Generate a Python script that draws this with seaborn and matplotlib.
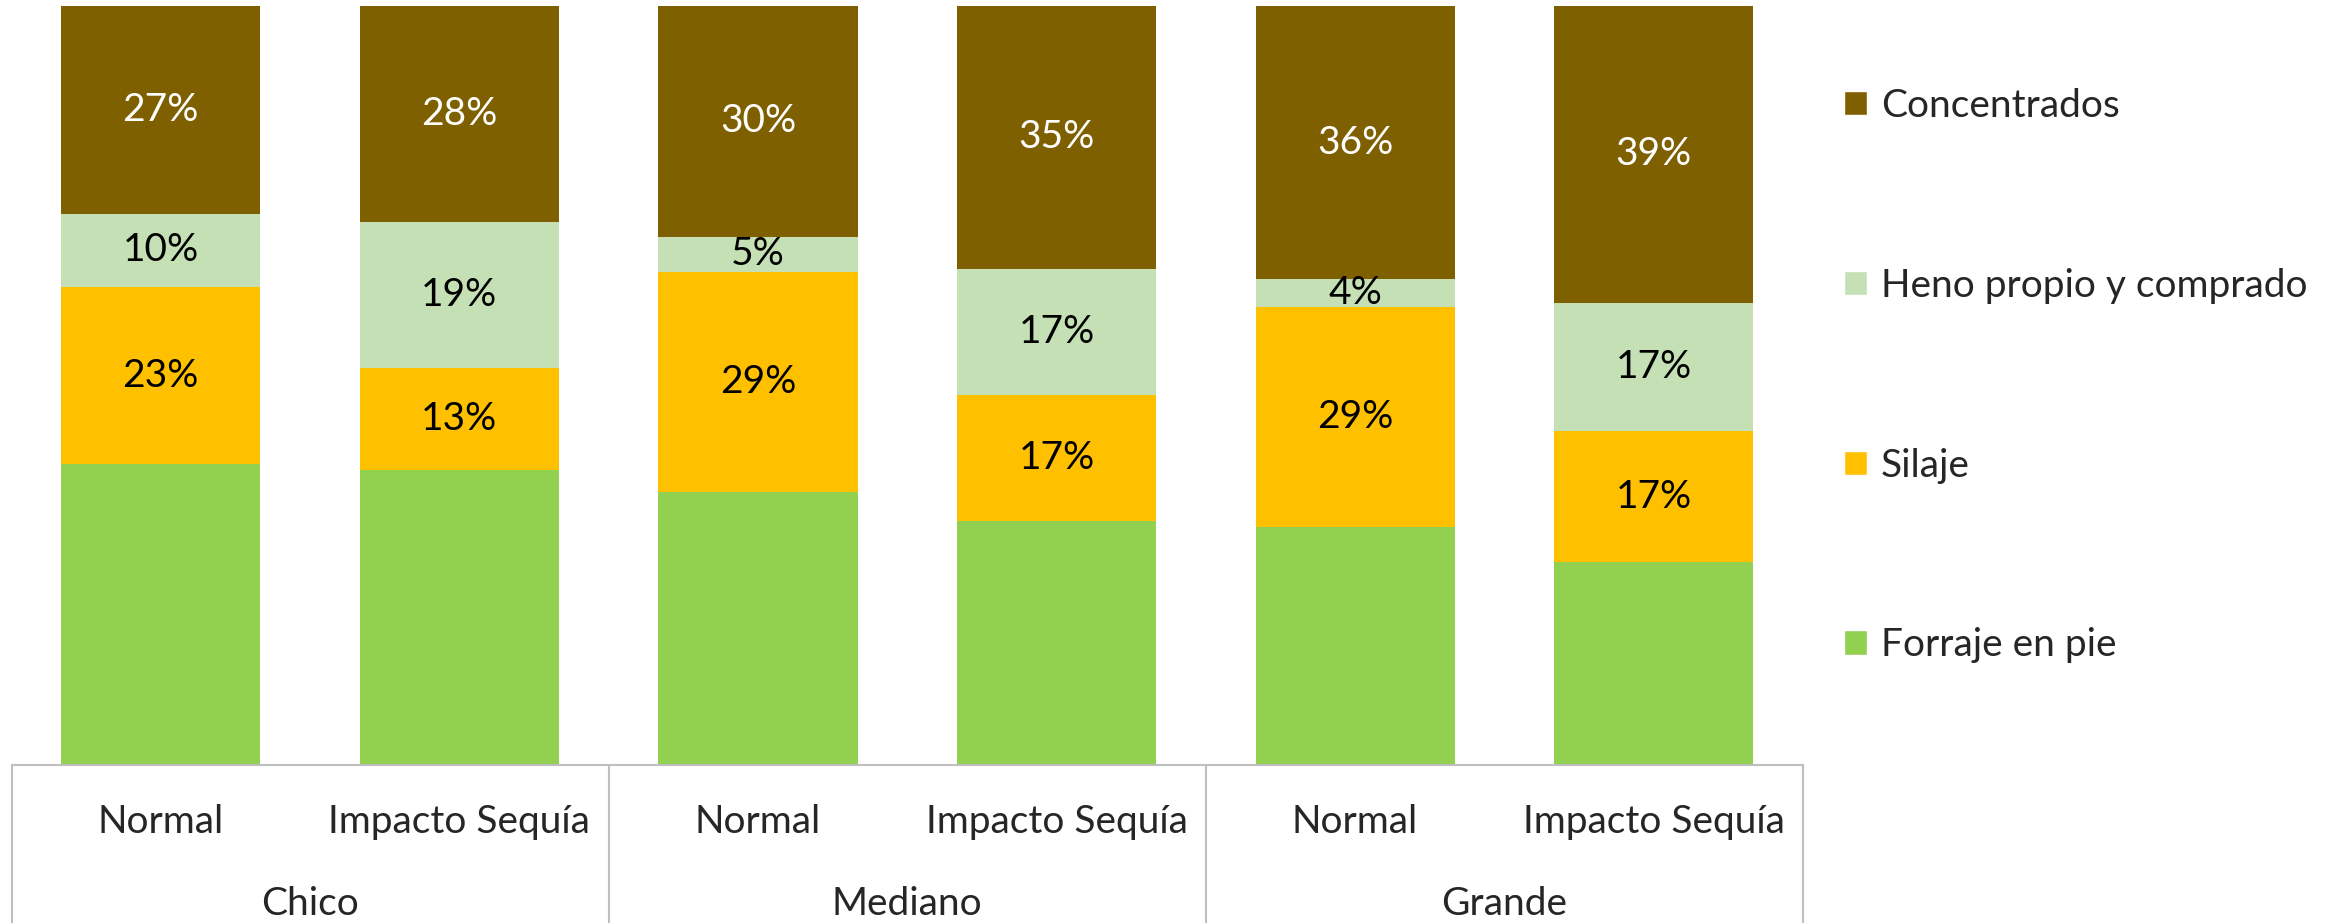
import matplotlib
matplotlib.use("Agg")
import matplotlib.pyplot as plt
import matplotlib.transforms as mtransforms
from matplotlib.patches import Patch
import pandas as pd
import seaborn as sns

# data (shares of the ration)
tamanos = ["Chico", "Chico", "Mediano", "Mediano", "Grande", "Grande"]
escenarios = ["Normal", "Impacto Sequía", "Normal", "Impacto Sequía", "Normal", "Impacto Sequía"]
forraje = [0.396, 0.389, 0.360, 0.321, 0.313, 0.267]
silaje = [0.234, 0.134, 0.290, 0.166, 0.291, 0.173]
heno = [0.096, 0.193, 0.046, 0.167, 0.036, 0.169]
concentrados = [0.274, 0.284, 0.304, 0.346, 0.360, 0.391]

series = ["Forraje en pie", "Silaje", "Heno propio y comprado", "Concentrados"]
colores = {"Forraje en pie": "#92D050", "Silaje": "#FFC000",
           "Heno propio y comprado": "#C5E0B4", "Concentrados": "#7F6000"}
color_txt = {"Silaje": "black", "Heno propio y comprado": "black", "Concentrados": "white"}

df = pd.DataFrame({"tamano": tamanos, "escenario": escenarios,
                   "Forraje en pie": forraje, "Silaje": silaje,
                   "Heno propio y comprado": heno, "Concentrados": concentrados})
df["clave"] = df["tamano"] + "|" + df["escenario"]
orden = list(df["clave"])

# cumulative tops for the stacking trick
acum = df[series].cumsum(axis=1)

sns.set_theme(style="white")
plt.rcParams["font.family"] = ["Lato", "DejaVu Sans"]
FS = 28

fig = plt.figure(figsize=(23.36, 9.23), dpi=100)
ax = fig.add_axes([11.5 / 2336, 158 / 923, (1803 - 11.5) / 2336, 759 / 923])

for s in reversed(series):
    sns.barplot(x=df["clave"], y=acum[s], order=orden, color=colores[s],
                width=0.667, saturation=1, ax=ax, linewidth=0)

# value labels centred in each segment (no label on Forraje)
for i in range(len(df)):
    for s in series[1:]:
        top = acum[s].iloc[i]
        val = df[s].iloc[i]
        ax.text(i, top - val / 2, f"{val:.0%}", ha="center", va="center",
                fontsize=FS, color=color_txt[s])

ax.set_xlim(-0.5, len(df) - 0.5)
ax.set_ylim(0, 1)
ax.set_xlabel("")
ax.set_ylabel("")
ax.set_xticks([])
ax.set_yticks([])
for side in ["left", "right", "top"]:
    ax.spines[side].set_visible(False)
ax.spines["bottom"].set_color("#BFBFBF")
ax.spines["bottom"].set_linewidth(1.5)

# two-level category axis
tr = mtransforms.blended_transform_factory(ax.transData, ax.transAxes)
trf = mtransforms.blended_transform_factory(ax.transData, fig.transFigure)
for i, esc in enumerate(escenarios):
    ax.text(i, -0.075, esc, transform=tr, ha="center", va="center", fontsize=FS)
grupos = list(dict.fromkeys(tamanos))
for g, grupo in enumerate(grupos):
    ax.text(2 * g + 0.5, -0.183, grupo, transform=tr, ha="center", va="center", fontsize=FS)
for xb in [-0.5, 1.5, 3.5, 5.5]:
    ax.plot([xb, xb], [0, 158 / 923], transform=trf, color="#BFBFBF",
            linewidth=1.5, clip_on=False)

handles = [Patch(facecolor=colores[s], label=s) for s in reversed(series)]
fig.legend(handles=handles, loc="center left", bbox_to_anchor=(1844 / 2336, 0.593),
           frameon=False, fontsize=FS, labelspacing=3.7, handlelength=0.6,
           handleheight=0.6, handletextpad=0.35, borderpad=0, borderaxespad=0)

fig.savefig("out.png", dpi=100)
